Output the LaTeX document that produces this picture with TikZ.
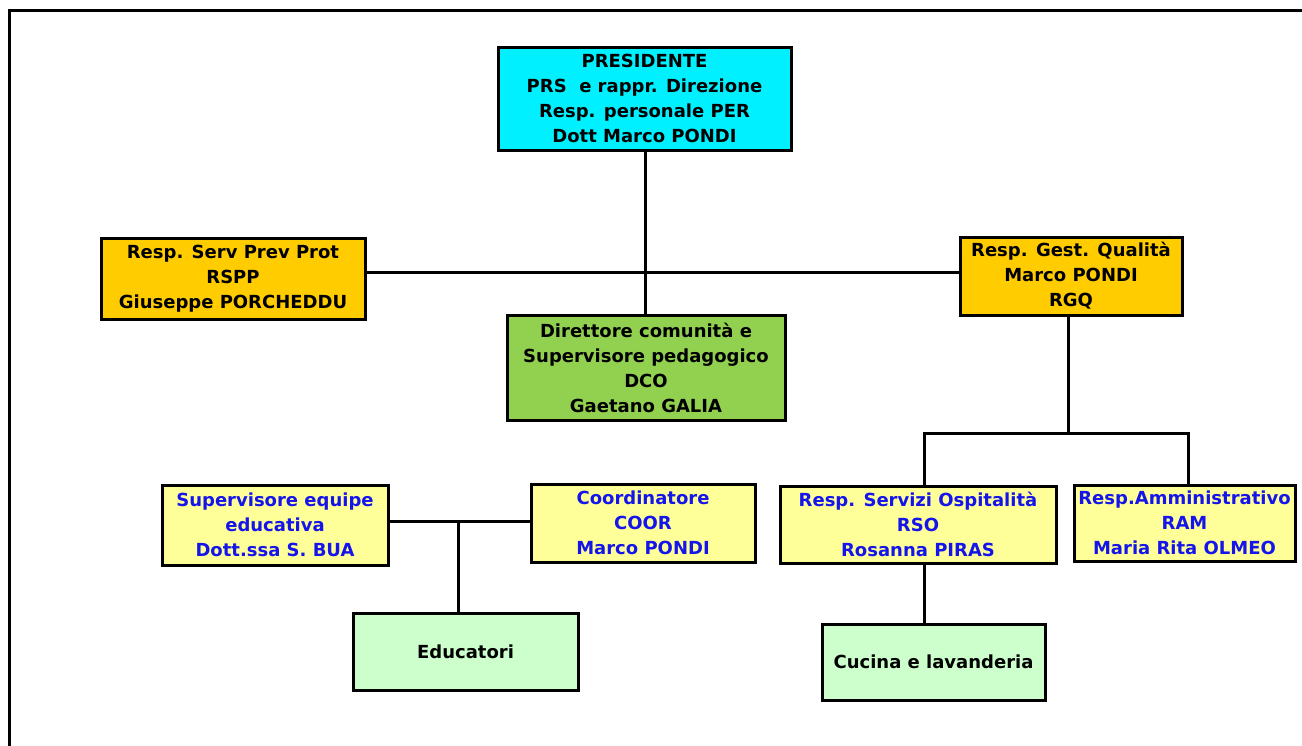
\documentclass[tikz,border=0pt]{standalone}
\usepackage{fontspec}
\setmainfont{DejaVu Sans}
\definecolor{cyanbox}{RGB}{0,240,255}
\definecolor{orangebox}{RGB}{255,204,0}
\definecolor{greenbox}{RGB}{146,208,80}
\definecolor{yellowbox}{RGB}{255,255,153}
\definecolor{mintbox}{RGB}{204,255,204}
\definecolor{bluetext}{RGB}{20,20,235}
\tikzset{
  box/.style={draw=black, line width=3pt, inner sep=0pt, outer sep=0pt, align=center,
    font=\fontsize{18}{25}\selectfont\bfseries, text=black},
  bluebox/.style={box, fill=yellowbox, text=bluetext},
  link/.style={draw=black, line width=3pt}
}
\begin{document}
\begin{tikzpicture}[x=1pt,y=-1pt]
\useasboundingbox (0,0) rectangle (1302,745);
\begin{scope}
\clip (0,0) rectangle (1302,745);
\draw[line width=3pt] (9.5,10.5) rectangle (1340,780);
\end{scope}

\node[box, fill=cyanbox, minimum width=293pt, minimum height=103pt] (pres) at (644.5,98.5)
  {PRESIDENTE\\PRS\ \ e rappr. Direzione\\Resp. personale PER\\Dott Marco PONDI};
\node[box, fill=orangebox, minimum width=264pt, minimum height=81pt] (rspp) at (233,278.5)
  {Resp. Serv Prev Prot\\RSPP\\Giuseppe PORCHEDDU};
\node[box, fill=orangebox, minimum width=222pt, minimum height=78pt] (rgq) at (1071,276)
  {Resp. Gest. Qualità\\Marco PONDI\\RGQ};
\node[box, fill=greenbox, minimum width=278pt, minimum height=105pt] (dco) at (646,367.5)
  {Direttore comunità e\\Supervisore pedagogico\\DCO\\Gaetano GALIA};
\node[bluebox, minimum width=226pt, minimum height=80pt] (sup) at (275,525)
  {Supervisore equipe\\educativa\\Dott.ssa S. BUA};
\node[bluebox, minimum width=224pt, minimum height=78pt] (coor) at (643,523)
  {Coordinatore\\COOR\\Marco PONDI};
\node[box, fill=mintbox, minimum width=225pt, minimum height=77pt] (edu) at (465.5,651.5)
  {Educatori};
\node[bluebox, minimum width=276pt, minimum height=77pt] (rso) at (918,524.5)
  {Resp. Servizi Ospitalità\\RSO\\Rosanna PIRAS};
\node[bluebox, minimum width=221pt, minimum height=76pt] (ram) at (1184.5,523)
  {Resp.Amministrativo\\RAM\\Maria Rita OLMEO};
\node[box, fill=mintbox, minimum width=223pt, minimum height=76pt] (cuc) at (933.5,662)
  {Cucina e lavanderia};

\coordinate (j1) at (645,272);
\coordinate (j2) at (1068,433);
\coordinate (j3) at (458,521);
\coordinate (j4) at (924,433);
\coordinate (j5) at (1188,433);

\draw[link] (pres.south -| j1) -- (j1 |- dco.north);
\draw[link] (rspp.east |- j1) -- (rgq.west |- j1);
\draw[link] (rgq.south -| j2) -- (j2);
\draw[link] (j4 |- rso.north) -- (j4) -- (j5) -- (j5 |- ram.north);
\draw[link] (sup.east |- j3) -- (coor.west |- j3);
\draw[link] (j3) -- (j3 |- edu.north);
\draw[link] (rso.south -| j4) -- (j4 |- cuc.north);
\end{tikzpicture}
\end{document}
